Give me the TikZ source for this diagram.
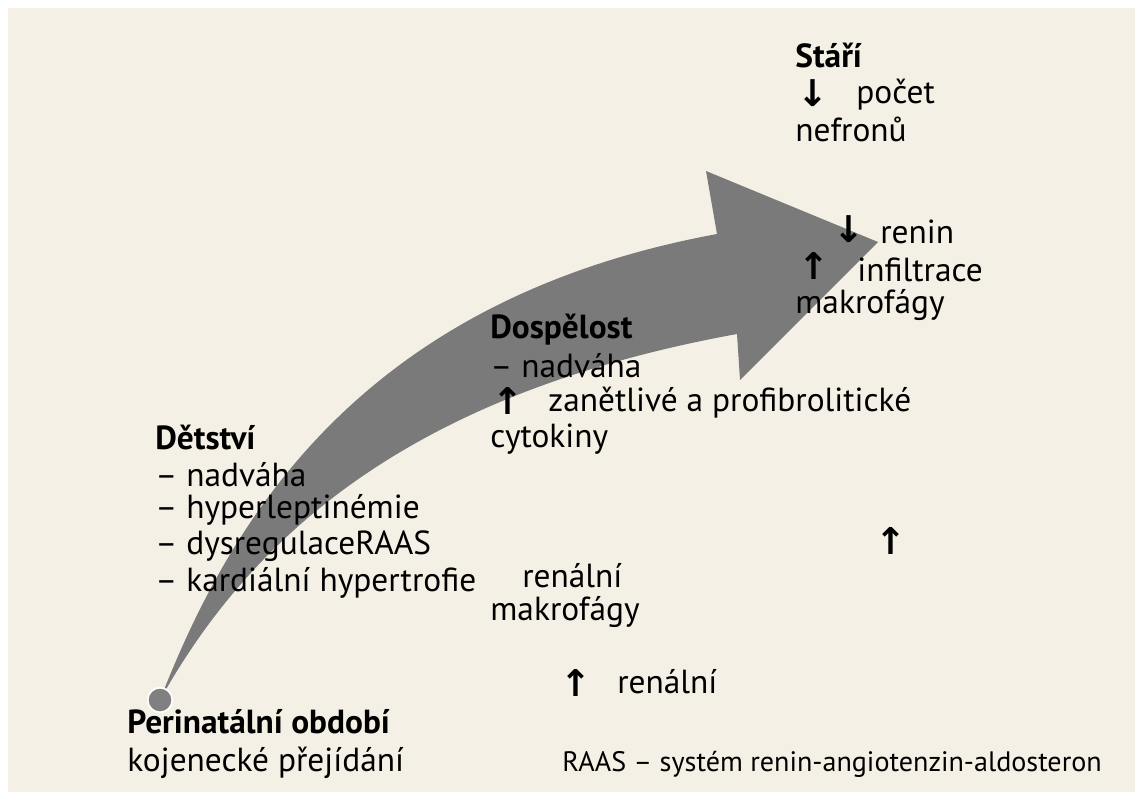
\documentclass[tikz,border=0pt]{standalone}
\usepackage{fontspec}
\setmainfont{PT Sans}
\newfontfamily\symfont{DejaVu Sans}
\usetikzlibrary{positioning}
\definecolor{paper}{HTML}{F5F0E5}
\tikzset{txt/.style={anchor=west, inner sep=0pt, font=\fontsize{19}{23}\selectfont},
         head/.style={txt, font=\fontsize{19}{23}\selectfont\bfseries},
         upar/.style={txt, font=\fontsize{21}{23}\symfont\bfseries},
         bigarrow/.style={fill=black!52, draw=none}}
\newcommand{\up}{↑}
\newcommand{\down}{↓}
\begin{document}
\begin{tikzpicture}[x=0.02cm, y=-0.02cm]
% background
\fill[white] (0,0) rectangle (1143,800);
\fill[paper] (8,8) rectangle (1135,792);
\useasboundingbox (0,0) rectangle (1143,800);
% the curved arrow
\fill[bigarrow] (160,700) .. controls (230,520) and (360,300) .. (717,234)
  -- (706,171) -- (878,242) -- (740,380) -- (737,334)
  .. controls (430,390) and (260,520) .. (160,700) -- cycle;
\node (tail) [circle, fill=black!50, draw=white, line width=1pt, minimum size=14pt, inner sep=0pt] at (160,700) {};
% old age
\node (stari) [head] at (795,56) {Stáří};
\node (stA) [upar] at (797,93) {\down};
\node (stB) [txt] at (856,95) {počet};
\node (stC) [txt] at (795,129) {nefronů};
\node (reA) [upar] at (833,229) {\down};
\node (reB) [txt] at (880,232) {renin};
\node (inA) [upar] at (798,266) {\up};
\node (inB) [txt] at (857,270) {infiltrace};
\node (inC) [txt] at (795,305) {makrofágy};
% adulthood
\node (dosp) [head] at (490,330) {Dospělost};
\node (doA) [txt] at (490,366) {– nadváha};
\node (doB) [upar] at (492,401) {\up};
\node (doC) [txt] at (548,403) {zanětlivé a profibrolitické};
\node (doD) [txt] at (490,439) {cytokiny};
% childhood
\node (det) [head] at (155,438) {Dětství};
\node (deA) [txt] at (155,475) {– nadváha};
\node (deB) [txt] at (155,510) {– hyperleptinémie};
\node (deC) [txt] at (155,546) {– dysregulaceRAAS};
\node (deD) [txt] at (155,583) {– kardiální hypertrofie};
% kidney
\node (kiA) [upar] at (875,541) {\up};
\node (kiB) [txt] at (522,576) {renální};
\node (kiC) [txt] at (490,612) {makrofágy};
\node (kiD) [upar] at (560,683) {\up};
\node (kiE) [txt] at (617,682) {renální};
% perinatal
\node (peri) [head] at (127,722) {Perinatální období};
\node (peA) [txt] at (127,763) {kojenecké přejídání};
\node (raas) [txt, font=\fontsize{16}{19}\selectfont] at (562,764) {RAAS – systém renin-angiotenzin-aldosteron};
\end{tikzpicture}
\end{document}
